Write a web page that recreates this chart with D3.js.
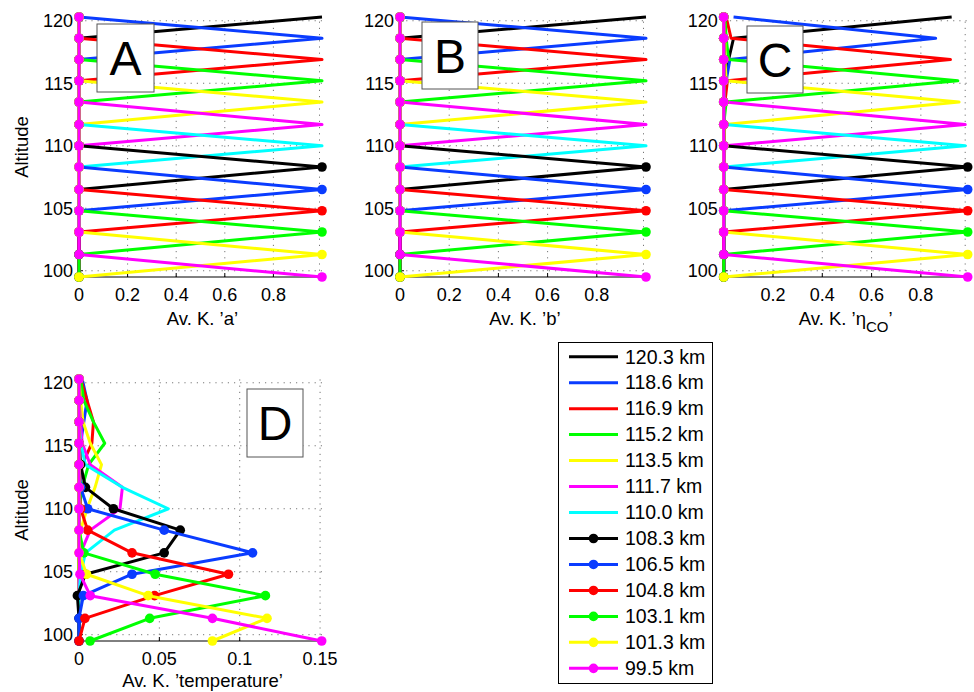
<!DOCTYPE html>
<html>
<head>
<meta charset="utf-8">
<script src="https://cdn.jsdelivr.net/npm/d3@7"></script>
<style>
  html, body { margin: 0; padding: 0; background: #fff; }
  svg { display: block; }
</style>
</head>
<body>
<svg id="chart" width="974" height="692"></svg>
<script>
// ---------------- DATA ----------------
// Altitude grid (km), top to bottom
const altitudes = [120.3, 118.6, 116.9, 115.2, 113.5, 111.7, 110.0, 108.3, 106.5, 104.8, 103.1, 101.3, 99.5];
const legendLabels = ["120.3 km", "118.6 km", "116.9 km", "115.2 km", "113.5 km", "111.7 km", "110.0 km",
                      "108.3 km", "106.5 km", "104.8 km", "103.1 km", "101.3 km", "99.5 km"];
const seriesColors = ["#000000", "#0a3cff", "#ff0000", "#00ff00", "#ffff00", "#ff00ff", "#00ffff",
                      "#000000", "#0a3cff", "#ff0000", "#00ff00", "#ffff00", "#ff00ff"];
const seriesMarkers = [false, false, false, false, false, false, false, true, true, true, true, true, true];

// Averaging kernel rows: one row per retrieval level (legend order), values at each altitude (top to bottom)
const kernelA = [
  [1,0,0,0,0,0,0,0,0,0,0,0,0],
  [0,1,0,0,0,0,0,0,0,0,0,0,0],
  [0,0,1,0,0,0,0,0,0,0,0,0,0],
  [0,0,0,1,0,0,0,0,0,0,0,0,0],
  [0,0,0,0,1,0,0,0,0,0,0,0,0],
  [0,0,0,0,0,1,0,0,0,0,0,0,0],
  [0,0,0,0,0,0,1,0,0,0,0,0,0],
  [0,0,0,0,0,0,0,1,0,0,0,0,0],
  [0,0,0,0,0,0,0,0,1,0,0,0,0],
  [0,0,0,0,0,0,0,0,0,1,0,0,0],
  [0,0,0,0,0,0,0,0,0,0,1,0,0],
  [0,0,0,0,0,0,0,0,0,0,0,1,0],
  [0,0,0,0,0,0,0,0,0,0,0,0,1]
];
const kernelB = [
  [1,0,0,0,0,0,0,0,0,0,0,0,0],
  [0,1,0,0,0,0,0,0,0,0,0,0,0],
  [0,0,1,0,0,0,0,0,0,0,0,0,0],
  [0,0,0,1,0,0,0,0,0,0,0,0,0],
  [0,0,0,0,1,0,0,0,0,0,0,0,0],
  [0,0,0,0,0,1,0,0,0,0,0,0,0],
  [0,0,0,0,0,0,1,0,0,0,0,0,0],
  [0,0,0,0,0,0,0,1,0,0,0,0,0],
  [0,0,0,0,0,0,0,0,1,0,0,0,0],
  [0,0,0,0,0,0,0,0,0,1,0,0,0],
  [0,0,0,0,0,0,0,0,0,0,1,0,0],
  [0,0,0,0,0,0,0,0,0,0,0,1,0],
  [0,0,0,0,0,0,0,0,0,0,0,0,1]
];
const kernelC = [
  [0.925,0.04,0.02,0,0,0,0,0,0,0,0,0,0],
  [0.04,0.86,0.025,0.01,0,0,0,0,0,0,0,0,0],
  [0.01,0.03,0.92,0.015,0.005,0,0,0,0,0,0,0,0],
  [0.005,0.01,0.02,0.95,0.01,0,0,0,0,0,0,0,0],
  [0,0.005,0.005,0.01,0.955,0.005,0,0,0,0,0,0,0],
  [0,0,0,0,0.005,0.98,0.005,0,0,0,0,0,0],
  [0,0,0,0,0,0.003,0.98,0.003,0,0,0,0,0],
  [0,0,0,0,0,0,0,0.99,0,0,0,0,0],
  [0,0,0,0,0,0,0,0,0.99,0,0,0,0],
  [0,0,0,0,0,0,0,0,0,0.99,0,0,0],
  [0,0,0,0,0,0,0,0,0,0,0.99,0,0],
  [0,0,0,0,0,0,0,0,0,0,0,0.99,0],
  [0,0,0,0,0,0,0,0,0,0,0,0,0.99]
];
const kernelD = [
  [0.001,0.001,0,0,0,0,0,0,0,0,0,0,0],
  [0.002,0.005,0.003,0.001,0,0,0,0,0,0,0,0,0],
  [0.001,0.005,0.009,0.008,0.002,0,0,0,0,0,0,0,0],
  [0.001,0.003,0.009,0.016,0.006,0.002,0,0,0,0,0,0,0],
  [0,0.001,0.0025,0.007,0.014,0.010,0.005,0.001,0,0,0,0,0],
  [0,0,0.001,0.002,0.007,0.027,0.0255,0.007,0.001,0,0,0,0],
  [0,0,0,0.001,0.004,0.027,0.0556,0.022,0.004,0.001,0,0,0],
  [0,0,0,0,0.001,0.004,0.0214,0.063,0.053,0.004,-0.001,0,0],
  [0,0,0,0,0,0.001,0.0054,0.053,0.108,0.033,0.0027,0,0],
  [0,0,0,0,0,0,0.001,0.0054,0.033,0.093,0.047,0.0037,0],
  [0,0,0,0,0,0,0,0,0.003,0.0474,0.116,0.044,0.0069],
  [0,0,0,0,0,0,0,0,0,0.0047,0.043,0.117,0.083],
  [0,0,0,0,0,0,0,0,0,0.0006,0.007,0.083,0.151]
];

const xTicksA = [0, 0.2, 0.4, 0.6, 0.8];
const xTicksB = [0, 0.2, 0.4, 0.6, 0.8];
const xTicksC = [0.2, 0.4, 0.6, 0.8];
const xTicksD = [0, 0.05, 0.1, 0.15];
const yTicks = [100, 105, 110, 115, 120];

// ---------------- LAYOUT ----------------
const FONT = "'Liberation Sans', Arial, Helvetica, sans-serif";
const svg = d3.select("#chart");

const panels = [
  { letter: "A", K: kernelA, xr: [79, 322], yr: [277, 17], xDom: [0, 1], xTicks: xTicksA,
    xLabel: ["Av. K. \u2019a\u2019"], box: [97, 24, 57, 68], showYLabel: true, tickY: 301, labelY: 325, edgeGrid: true },
  { letter: "B", K: kernelB, xr: [400, 646], yr: [277, 17], xDom: [0, 1], xTicks: xTicksB,
    xLabel: ["Av. K. \u2019b\u2019"], box: [422, 22, 56, 67], showYLabel: false, tickY: 301, labelY: 325, edgeGrid: true },
  { letter: "C", K: kernelC, xr: [723.7, 967.7], yr: [277, 17], xDom: [0, 0.99], xTicks: xTicksC,
    xLabel: "eta", box: [747, 26, 56, 67], showYLabel: false, tickY: 301, labelY: 325, edgeGrid: true },
  { letter: "D", K: kernelD, xr: [79, 322], yr: [641, 379], xDom: [0, 0.1512], xTicks: xTicksD,
    xLabel: ["Av. K. \u2019temperature\u2019"], box: [247, 389, 56, 68], showYLabel: true, tickY: 665, labelY: 687, edgeGrid: false }
];

panels.forEach(p => {
  const x = d3.scaleLinear().domain(p.xDom).range(p.xr);
  const y = d3.scaleLinear().domain([99.5, 120.3]).range(p.yr);
  const g = svg.append("g");

  // grid
  const gridX = p.xTicks.filter(t => t > 0);
  g.selectAll(".gx").data(gridX).enter().append("line")
    .attr("x1", d => x(d)).attr("x2", d => x(d))
    .attr("y1", p.yr[0]).attr("y2", p.yr[1])
    .attr("stroke", "#777").attr("stroke-width", 1).attr("stroke-dasharray", "1.2,5");
  if (p.edgeGrid) {
    g.append("line")
      .attr("x1", p.xr[1] - 2.5).attr("x2", p.xr[1] - 2.5)
      .attr("y1", p.yr[0]).attr("y2", y(120))
      .attr("stroke", "#777").attr("stroke-width", 1).attr("stroke-dasharray", "1.2,5");
  }
  g.selectAll(".gy").data(yTicks).enter().append("line")
    .attr("x1", p.xr[0]).attr("x2", p.xr[1])
    .attr("y1", d => y(d)).attr("y2", d => y(d))
    .attr("stroke", "#777").attr("stroke-width", 1).attr("stroke-dasharray", "1.2,5");

  // axes lines
  g.append("line").attr("x1", p.xr[0]).attr("x2", p.xr[1]).attr("y1", p.yr[0]).attr("y2", p.yr[0])
    .attr("stroke", "#000").attr("stroke-width", 1);
  g.append("line").attr("x1", p.xr[0]).attr("x2", p.xr[0]).attr("y1", p.yr[0]).attr("y2", p.yr[1])
    .attr("stroke", "#000").attr("stroke-width", 1);
  // inward ticks
  g.selectAll(".tx").data(p.xTicks).enter().append("line")
    .attr("x1", d => x(d)).attr("x2", d => x(d))
    .attr("y1", p.yr[0]).attr("y2", p.yr[0] - 4)
    .attr("stroke", "#000");
  g.selectAll(".ty").data(yTicks).enter().append("line")
    .attr("x1", p.xr[0]).attr("x2", p.xr[0] + 4)
    .attr("y1", d => y(d)).attr("y2", d => y(d))
    .attr("stroke", "#000");

  // tick labels
  g.selectAll(".txl").data(p.xTicks).enter().append("text")
    .attr("x", d => x(d)).attr("y", p.tickY)
    .attr("text-anchor", "middle").attr("font-family", FONT).attr("font-size", 18)
    .text(d => String(d));
  g.selectAll(".tyl").data(yTicks).enter().append("text")
    .attr("x", p.xr[0] - 6).attr("y", d => y(d) + 6.5)
    .attr("text-anchor", "end").attr("font-family", FONT).attr("font-size", 18)
    .text(d => String(d));

  // x label
  const cx = (p.xr[0] + p.xr[1]) / 2;
  if (p.xLabel === "eta") {
    const t = g.append("text").attr("x", cx).attr("y", p.labelY)
      .attr("text-anchor", "middle").attr("font-family", FONT).attr("font-size", 18.5);
    t.append("tspan").text("Av. K. \u2019\u03b7");
    t.append("tspan").attr("dy", 7).attr("font-size", 15).text("CO");
    t.append("tspan").attr("dy", -7).text("\u2019");
  } else {
    g.append("text").attr("x", cx + 2).attr("y", p.labelY)
      .attr("text-anchor", "middle").attr("font-family", FONT).attr("font-size", 18.5)
      .text(p.xLabel[0]);
  }
  if (p.showYLabel) {
    const cy = (p.yr[0] + p.yr[1]) / 2;
    g.append("text").attr("transform", `translate(28,${cy}) rotate(-90)`)
      .attr("text-anchor", "middle").attr("font-family", FONT).attr("font-size", 18.5)
      .text("Altitude");
  }

  // series
  const line = d3.line().x(d => x(d[0])).y(d => y(d[1]));
  p.K.forEach((row, i) => {
    const pts = row.map((v, j) => [v, altitudes[j]]);
    const sg = g.append("g");
    sg.append("path").attr("d", line(pts))
      .attr("fill", "none").attr("stroke", seriesColors[i]).attr("stroke-width", 3)
      .attr("stroke-linejoin", "round");
    if (seriesMarkers[i]) {
      sg.selectAll("circle").data(pts).enter().append("circle")
        .attr("cx", d => x(d[0])).attr("cy", d => y(d[1])).attr("r", 4.8)
        .attr("fill", seriesColors[i]);
    }
  });

  // letter box
  const [bx, by, bw, bh] = p.box;
  g.append("rect").attr("x", bx).attr("y", by).attr("width", bw).attr("height", bh)
    .attr("fill", "#fff").attr("stroke", "#555").attr("stroke-width", 1);
  g.append("text").attr("x", bx + bw / 2).attr("y", by + bh / 2 + 17)
    .attr("text-anchor", "middle").attr("font-family", FONT).attr("font-size", 48)
    .text(p.letter);
});

// ---------------- LEGEND ----------------
const lg = svg.append("g");
lg.append("rect").attr("x", 558.5).attr("y", 342.5).attr("width", 154).attr("height", 341)
  .attr("fill", "#fff").attr("stroke", "#000").attr("stroke-width", 1);
legendLabels.forEach((lab, i) => {
  const yy = 356.7 + i * 25.97;
  lg.append("line").attr("x1", 569).attr("x2", 618).attr("y1", yy).attr("y2", yy)
    .attr("stroke", seriesColors[i]).attr("stroke-width", 3);
  if (seriesMarkers[i]) {
    lg.append("circle").attr("cx", 593.5).attr("cy", yy).attr("r", 4.8).attr("fill", seriesColors[i]);
  }
  lg.append("text").attr("x", 625).attr("y", yy + 6.8)
    .attr("font-family", FONT).attr("font-size", 19.5).text(lab);
});
</script>
</body>
</html>
